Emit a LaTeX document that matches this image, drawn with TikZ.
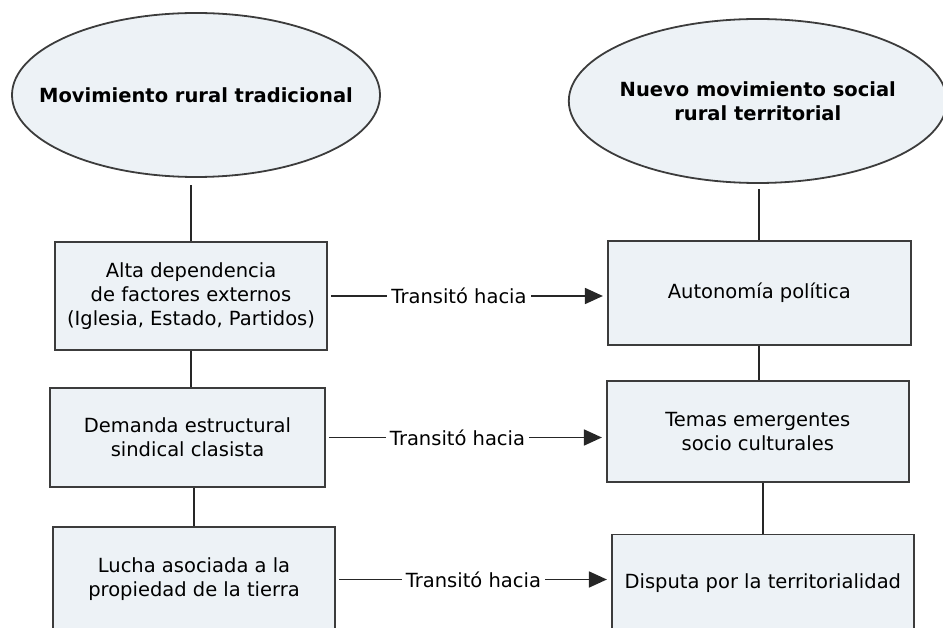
\documentclass[tikz,border=0pt]{standalone}
\usepackage{fontspec}
\setmainfont{DejaVu Sans}
\usepackage{tikz}
\usetikzlibrary{positioning,arrows.meta,shapes.geometric}
\definecolor{cell}{HTML}{EDF2F6}
\definecolor{edge}{HTML}{3C3C3C}

\begin{document}
\begin{tikzpicture}[
    x=1pt, y=1pt,
    base/.style = {draw=edge, line width=1.8pt, fill=cell, align=center, node distance=140pt,
                   font=\fontsize{19.5}{24}\selectfont},
    movement/.style = {base, ellipse, minimum height=164pt, inner sep=0pt},
    title/.style = {align=center, font=\fontsize{19.5}{24}\selectfont\bfseries},
    stage/.style = {base, rectangle, inner sep=0pt},
    link/.style = {line width=1.8pt, draw=black!85},
    trans/.style = {fill=white, inner xsep=4pt, pos=0.47, font=\fontsize{19.5}{24}\selectfont},
    transit/.style = {link, -{Triangle[length=18pt, width=16pt]}, shorten <=3pt, shorten >=4pt},
]

    \useasboundingbox (0,0) rectangle (943,627);
    \clip (0,0) rectangle (943,627);

    % movements
    \node[movement, minimum width=368pt] (ltrad) at (196,532) {};
    \node[movement, minimum width=378pt, right = 187pt of ltrad, yshift=-6pt] (rnuevo) {};
    \node[title] (ltradtext) at (ltrad.center) {Movimiento rural tradicional};
    \node[title] (rnuevotext) at (rnuevo.center) {Nuevo movimiento social\\ rural territorial};

    % left column
    \node[stage, minimum width=272pt, minimum height=108pt, below of = ltrad, yshift=-61pt, xshift=-5pt] (ldep) {Alta dependencia\\ de factores externos\\ (Iglesia, Estado, Partidos)};
    \node[stage, minimum width=275pt, minimum height=99pt, below of = ldep, yshift=-1.5pt, xshift=-3.5pt] (ldem) {Demanda estructural\\ sindical clasista};
    \node[stage, minimum width=282pt, minimum height=105pt, below of = ldem, yshift=-2pt, xshift=6.5pt] (llucha) {Lucha asociada a la\\ propiedad de la tierra};

    % right column
    \node[stage, minimum width=303pt, minimum height=104pt, right = 279pt of ldep, yshift=3pt] (rauto) {Autonomía política};
    \node[stage, minimum width=302pt, minimum height=101pt, right = 280pt of ldem, yshift=6pt] (rtemas) {Temas emergentes\\ socio culturales};
    \node[stage, minimum width=302pt, minimum height=98pt, right = 275pt of llucha, yshift=-4pt] (rdisp) {Disputa por la territorialidad};

    % verticals
    \draw[link, shorten >=7pt] (ldep.north) -- (ldep.north |- ltrad.south);
    \draw[link] (ldep.south) -- (ldep.south |- ldem.north);
    \draw[link] (llucha.north) -- (llucha.north |- ldem.south);
    \draw[link, shorten >=5pt] (rauto.north) -- (rauto.north |- rnuevo.south);
    \draw[link] (rauto.south) -- (rauto.south |- rtemas.north);
    \draw[link] (rdisp.north) -- (rdisp.north |- rtemas.south);

    % transitions
    \draw[transit] (ldep.east) -- node[trans] {Transitó hacia} (ldep.east -| rauto.west);
    \draw[transit] (ldem.east) -- node[trans] {Transitó hacia} (ldem.east -| rtemas.west);
    \draw[transit] (llucha.east) -- node[trans, pos=0.5] {Transitó hacia} (llucha.east -| rdisp.west);

\end{tikzpicture}
\end{document}
